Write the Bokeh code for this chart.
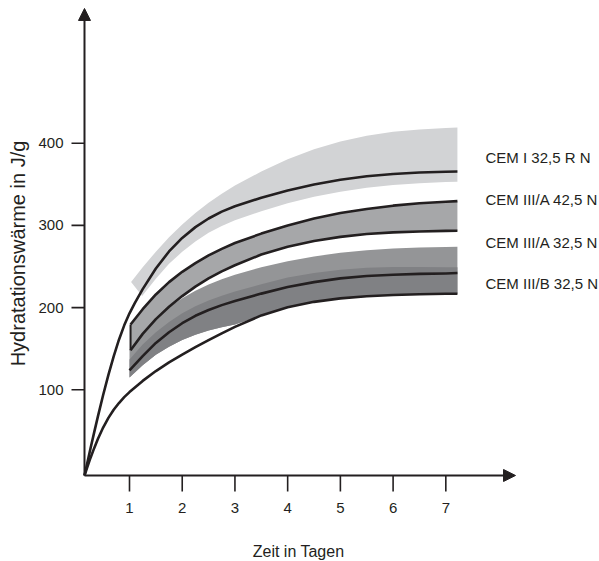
import math
from bokeh.plotting import figure
from bokeh.models import Arrow, NormalHead
from bokeh.embed import file_html
from bokeh.resources import INLINE
from bokeh.core.properties import value

# ---------------- data ----------------
cement_names = ["CEM I 32,5 R N", "CEM III/A 42,5 N", "CEM III/A 32,5 N", "CEM III/B 32,5 N"]
x_ticks = [1, 2, 3, 4, 5, 6, 7]
y_ticks = [100, 200, 300, 400]
x_title = "Zeit in Tagen"
y_title = "Hydratationswärme in J/g"

# axis origin (days, J/g)
origin_day = 0.1464
origin_heat = -4.26

# times (days)
days_early = [0.1464, 0.2, 0.26, 0.33, 0.4, 0.5, 0.6, 0.7, 0.8, 0.9]
days = [1.0, 1.25, 1.5, 1.75, 2.0, 2.25, 2.5, 2.75, 3.0, 3.5, 4.0, 4.5, 5.0, 5.5, 6.0, 6.5, 7.0, 7.22]
days_cem1 = days_early + [1.0, 1.1] + days[1:]
days_mid = [1.02] + days[1:]
days_light_upper = [1.03] + days[1:]
days_light_lower = [1.24] + days[2:]

# CEM I 32,5 R N : curve from origin + light band
cem1_line = [-4.26, 11.3, 28.5, 48.2, 67.4, 93.6, 118.2, 140.7, 160.9, 178.4,
             193, 205.5, 222.5, 247.5, 268.3, 284.8, 297.9, 308.4, 316.7, 323.2, 333.7, 342.4, 349.7,
             355.5, 359.7, 362.6, 364.3, 365.2, 365.5]
cem1_band_upper = [231, 249, 268, 285.5, 301, 315, 327.5, 338.5, 348.5, 365.5, 380.5, 392.5,
                   402, 409, 413.8, 416.8, 418.6, 419.2]
cem1_band_lower = [214, 235, 253.3, 267.8, 280.4, 290.9, 299.2, 306.2, 317.2, 326.9, 334.7,
                   341, 345.7, 349.1, 351.3, 352.7, 353]

# CEM III/A 42,5 N band (outlined)
cem3a42_upper = [179.4, 198, 216, 231, 243.5, 254, 263.5, 271.5, 278.5, 290, 300, 308.5, 315,
                 320, 324, 327, 328.8, 329.5]
cem3a42_lower = [148, 168, 186, 201, 214, 225.5, 235.5, 244, 251.5, 264.5, 274, 281, 286,
                 289.5, 291.5, 292.5, 293.3, 293.5]

# CEM III/A 32,5 N band (upper, lighter dark grey)
cem3a32_upper = [148, 169, 186.5, 200.5, 211.5, 220.5, 228, 234.5, 240, 249, 256.5, 262.3,
                 266.7, 269.8, 271.8, 273, 273.7, 274]
# CEM III/B 32,5 N band (darker grey) and its mean line
cem3b_upper = [137, 155, 170, 182.5, 193, 201.5, 208.5, 214.5, 219.5, 228.5, 236.5, 242, 246,
               248.5, 249.5, 249.5, 249, 249]
cem3b_line = [123.5, 141, 157, 170, 181, 190, 197, 203, 208, 217, 225, 231, 235.5, 238.5, 240,
              241, 241.5, 242]
dark_band_lower = [115, 130, 142.5, 152.5, 160.5, 167, 172, 176, 179.5, 190.5, 200.5, 207,
                   211.2, 213.8, 215.4, 216.3, 216.8, 216.9]

# lowest curve from origin
low_early = [-4.26, 6.1, 17.1, 29, 40.1, 54.1, 65.8, 75.7, 83.9, 91]
low_line = [97.2, 110.8, 122.8, 133.4, 142.9, 151.9, 160.5, 168.7, 176.5, 190.5, 200.5, 207,
            211.2, 213.8, 215.4, 216.3, 216.8, 216.9]

# ---------------- layout / style ----------------
FONT = "Liberation Sans"
INK = "#231f20"
C_LIGHT = "#d2d3d5"
C_MID = "#a6a7a9"
C_DARK1 = "#949597"
C_DARK2 = "#808184"

X_START, X_END = -1.4469, 9.915
Y_START, Y_END = -108.9, 573.6
X_TIP = 8.322        # end of the time axis arrow
Y_TIP = 563.9        # end of the heat axis arrow
PX_X = 52.72         # pixels per day
PX_Y = 0.822         # pixels per J/g

p = figure(width=599, height=561, x_range=(X_START, X_END), y_range=(Y_START, Y_END),
           output_backend="svg", toolbar_location=None,
           min_border_left=0, min_border_right=0, min_border_top=0, min_border_bottom=0)
p.xaxis.visible = False
p.yaxis.visible = False
p.outline_line_color = None
p.xgrid.grid_line_color = None
p.ygrid.grid_line_color = None
p.background_fill_color = "white"
p.border_fill_color = "white"

# CEM I light band
p.patch(days_light_upper + days_light_lower[::-1], cem1_band_upper + cem1_band_lower[::-1],
        fill_color=C_LIGHT, line_color=None)
# CEM III/A 42,5 N band
p.patch(days_mid + days_mid[::-1], cem3a42_upper + cem3a42_lower[::-1], fill_color=C_MID, line_color=None)
# dark bands
p.patch(days + days[::-1], cem3a32_upper + dark_band_lower[::-1], fill_color=C_DARK1, line_color=None)
p.patch(days + days[::-1], cem3b_upper + dark_band_lower[::-1], fill_color=C_DARK2, line_color=None)

LW = 2.6
line_kw = dict(line_color=INK, line_width=LW, line_join="round")
p.line(days_cem1, cem1_line, **line_kw)
p.line(days_mid, cem3a42_upper, **line_kw)
p.line(days_mid, cem3a42_lower, **line_kw)
p.line([days_mid[0], days_mid[0]], [cem3a42_lower[0], cem3a42_upper[0]], line_color=INK, line_width=2)
p.line(days, cem3b_line, **line_kw)
p.line(days_early + days, low_early + low_line, **line_kw)

# axes: arrows from the origin
for xe, ye in ((origin_day, Y_TIP), (X_TIP, origin_heat)):
    p.add_layout(Arrow(end=NormalHead(size=12, fill_color=INK, line_color=INK, line_width=1),
                       x_start=origin_day, y_start=origin_heat, x_end=xe, y_end=ye,
                       line_color=INK, line_width=2))

# ticks (drawn on the data scales)
x_tick_len = 16 / PX_Y
y_tick_len = 13 / PX_X
p.segment(x0=x_ticks, y0=[origin_heat] * len(x_ticks), x1=x_ticks,
          y1=[origin_heat - x_tick_len] * len(x_ticks), line_color=INK, line_width=1.6)
p.segment(x0=[origin_day - y_tick_len] * len(y_ticks), y0=y_ticks, x1=[origin_day] * len(y_ticks),
          y1=y_ticks, line_color=INK, line_width=1.6)

# tick labels
p.text(x=x_ticks, y=[origin_heat - 33 / PX_Y] * len(x_ticks), text=[str(v) for v in x_ticks],
       text_font=value(FONT), text_font_size=value("15px"), text_align="center",
       text_baseline="middle", text_color=INK)
p.text(x=[origin_day - 21 / PX_X] * len(y_ticks), y=y_ticks, text=[str(v) for v in y_ticks],
       text_font=value(FONT), text_font_size=value("15px"), text_align="right",
       text_baseline="middle", text_color=INK)

# series labels
label_x = [7.753] * 4
label_y = [382.2, 331.5, 279.6, 229.0]
p.text(x=label_x, y=label_y, text=cement_names, text_font=value(FONT), text_font_size=value("15px"),
       text_baseline="middle", text_align="left", text_color=INK)

# axis titles
p.text(x=[-1.1244], y=[265.8], text=[y_title], angle=math.pi / 2, text_font=value(FONT),
       text_font_size=value("20px"), text_align="center", text_baseline="middle", text_color=INK)
p.text(x=[4.206], y=[-96.7], text=[x_title], text_font=value(FONT),
       text_font_size=value("16px"), text_align="center", text_baseline="middle", text_color=INK)

open("out.html", "w").write(file_html(p, INLINE))
